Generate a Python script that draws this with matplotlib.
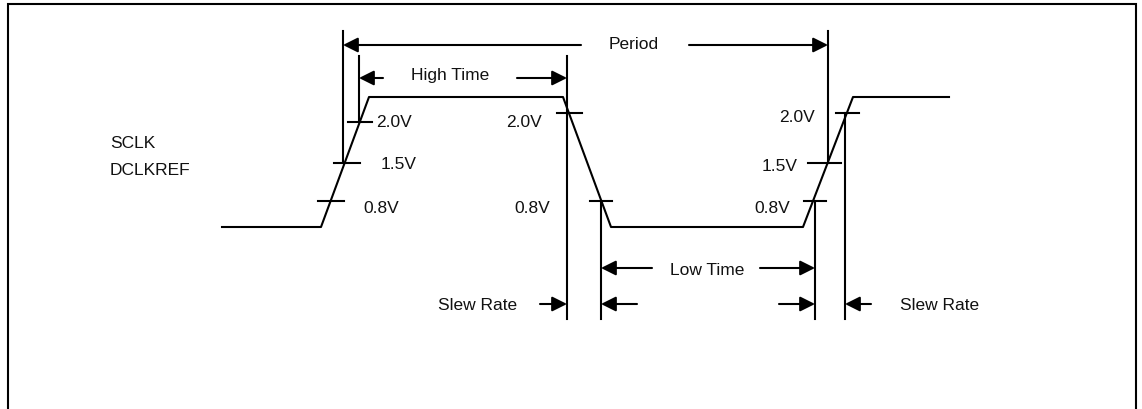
import matplotlib
matplotlib.use("Agg")
import matplotlib.pyplot as plt

# clock waveform corners (time axis in px, level in px, y grows downward)
wave_t = [222, 321, 369, 563, 611, 803, 853, 949]
wave_v = [228, 228, 98, 98, 228, 228, 98, 98]

# threshold crossing ticks: (left, right, level)
tick_x0 = [348, 334, 318, 557, 590, 804, 808, 836]
tick_x1 = [372, 360, 344, 582, 612, 826, 841, 859]
tick_y = [123, 164, 202, 114, 202, 202, 164, 114]

# reference verticals: x, top, bottom
vert_x = [343, 359, 567, 601, 815, 828, 845]
vert_top = [32, 57, 57, 202, 202, 32, 114]
vert_bot = [164, 123, 320, 320, 320, 164, 320]

# dimension arrows: tail x, head x, y
arr_tail = [581, 689, 383, 517, 652, 760, 540, 637, 779, 871]
arr_head = [343, 828, 359, 567, 601, 815, 567, 601, 815, 845]
arr_y = [46, 46, 79, 79, 269, 269, 305, 305, 305, 305]

# text labels: string, centre x, baseline y
labels = ["Period", "High Time", "Low Time", "Slew Rate", "Slew Rate",
          "2.0V", "1.5V", "0.8V", "2.0V", "0.8V", "2.0V", "1.5V", "0.8V"]
label_x = [634, 450, 707, 478, 940,
           394, 399, 381, 524, 532, 797, 780, 772]
label_y = [49, 80, 275, 310, 310,
           127, 169, 213, 127, 213, 122, 171, 213]

signal_names = ["SCLK", "DCLKREF"]
signal_y = [148, 175]

plt.rcParams['font.family'] = ['Liberation Sans', 'DejaVu Sans']

fig = plt.figure(figsize=(11.42, 4.10), dpi=100)
ax = fig.add_axes([0, 0, 1, 1])
ax.set_xlim(0, 1142)
ax.set_ylim(410, 0)
ax.axis('off')

lw = 1.5
# outer frame (open at the bottom)
ax.plot([8, 8, 1136, 1136], [410, 5, 5, 410], color='black', lw=lw,
        solid_joinstyle='miter')

ax.plot(wave_t, wave_v, color='black', lw=lw)

for x0, x1, y in zip(tick_x0, tick_x1, tick_y):
    ax.plot([x0, x1], [y, y], color='black', lw=lw)

for x, y0, y1 in zip(vert_x, vert_top, vert_bot):
    ax.plot([x, x], [y0, y1], color='black', lw=lw)

for xt, xh, y in zip(arr_tail, arr_head, arr_y):
    ax.annotate("", xy=(xh, y), xytext=(xt, y),
                arrowprops=dict(arrowstyle='-|>,head_length=0.9,head_width=0.45',
                                mutation_scale=10, lw=lw, color='black',
                                shrinkA=0, shrinkB=0))

for s, x, y in zip(labels, label_x, label_y):
    ax.text(x, y, s, ha='center', va='baseline', fontsize=12.5, color='#111111')

for s, y in zip(signal_names, signal_y):
    ax.text(110, y, s, ha='left', va='baseline', fontsize=12.5, color='#111111')

fig.savefig("out.png", dpi=100)
